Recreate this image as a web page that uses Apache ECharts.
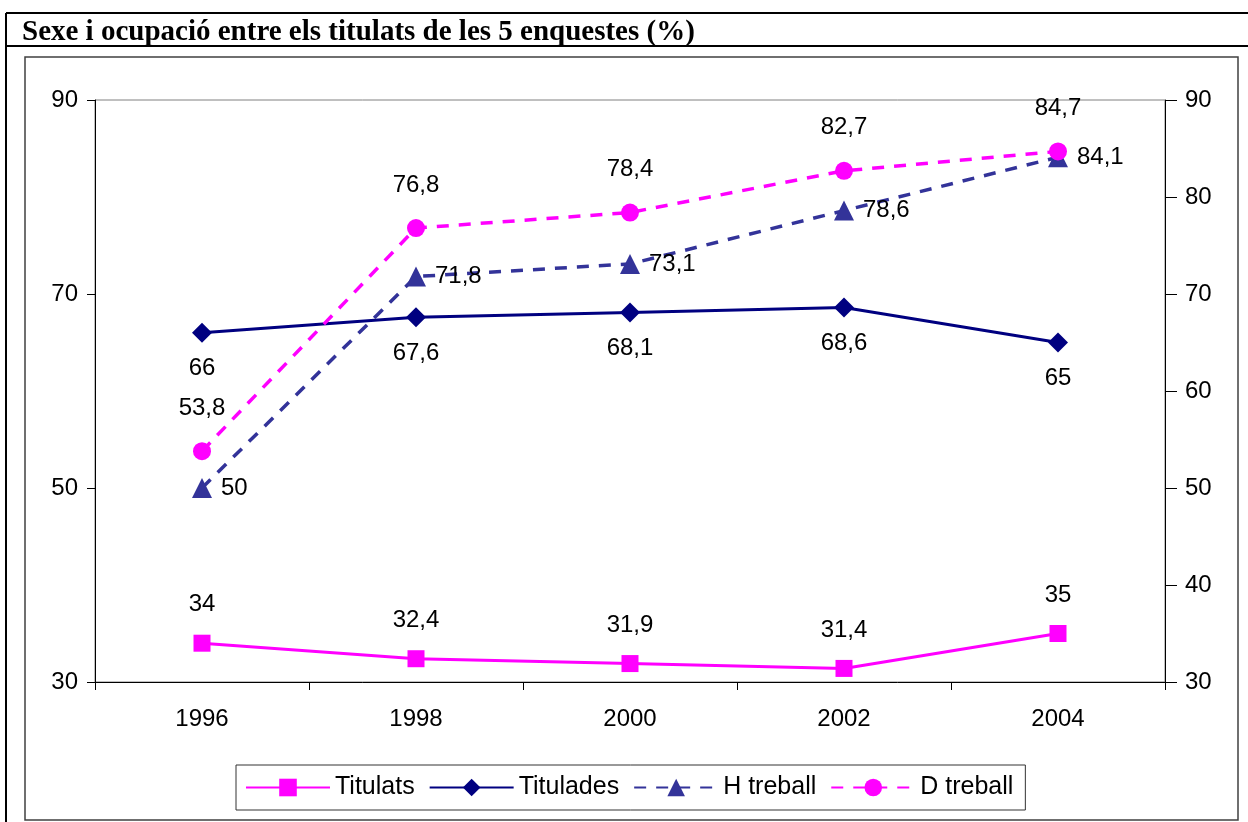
<!DOCTYPE html>
<html>
<head>
    <meta charset="utf-8">
    <title>Sexe i ocupació</title>
    <script src="https://cdn.jsdelivr.net/npm/echarts@6/dist/echarts.min.js"></script>
    <style>
        html, body { margin: 0; padding: 0; background: #fff; }
    </style>
</head>
<body>
<div id="main" style="width: 1248px;height:822px;"></div>
<script type="text/javascript">

    // dades llegides del gràfic
    var anys = ['1996', '1998', '2000', '2002', '2004'];
    var titulats = [34, 32.4, 31.9, 31.4, 35];
    var titulades = [66, 67.6, 68.1, 68.6, 65];
    var hTreball = [50, 71.8, 73.1, 78.6, 84.1];
    var dTreball = [53.8, 76.8, 78.4, 82.7, 84.7];

    var fontTxt = 'Liberation Sans, Arial, sans-serif';

    // coma decimal
    function coma(p) {
        return String(p.value).replace('.', ',');
    }

    var myChart = echarts.init(document.getElementById('main'));

    option = {
        animation: false,
        backgroundColor: '#fff',
        title: {
            text: 'Sexe i ocupació entre els titulats de les 5 enquestes (%)',
            left: 17,
            top: 13,
            textStyle: {
                fontFamily: 'Liberation Serif, Times New Roman, serif',
                fontWeight: 'bold',
                fontSize: 29,
                color: '#000'
            }
        },
        graphic: [
            {type: 'line', shape: {x1: 6, y1: 13, x2: 6, y2: 822}, style: {stroke: '#000', lineWidth: 2}},
            {type: 'line', shape: {x1: 6, y1: 13, x2: 1248, y2: 13}, style: {stroke: '#000', lineWidth: 2}},
            {type: 'line', shape: {x1: 6, y1: 46, x2: 1248, y2: 46}, style: {stroke: '#000', lineWidth: 2}},
            {type: 'rect', shape: {x: 25, y: 57, width: 1213, height: 763}, style: {fill: 'none', stroke: '#404040', lineWidth: 1.5}}
        ],
        legend: {
            left: 236,
            top: 765,
            padding: [10, 12, 10, 9],
            itemGap: 14,
            itemWidth: 84,
            itemHeight: 22,
            borderColor: '#333',
            borderWidth: 1,
            textStyle: {
                fontFamily: fontTxt,
                fontSize: 25,
                color: '#000'
            },
            data: ['Titulats', 'Titulades', 'H treball', 'D treball']
        },
        grid: {
            left: 95,
            right: 83,
            top: 100,
            bottom: 140,
            show: true,
            borderColor: '#808080',
            borderWidth: 1
        },
        xAxis: [{
            type: 'category',
            data: anys,
            boundaryGap: true,
            axisLine: {lineStyle: {color: '#000', width: 1}},
            axisTick: {show: true, length: 8, alignWithLabel: false, lineStyle: {color: '#000'}},
            axisLabel: {
                margin: 25,
                fontFamily: fontTxt,
                fontSize: 24,
                color: '#000'
            },
            splitLine: {show: false}
        }],
        yAxis: [{
            type: 'value',
            position: 'left',
            min: 30,
            max: 90,
            interval: 20,
            axisLine: {show: true, lineStyle: {color: '#000'}},
            axisTick: {show: true, length: 8, lineStyle: {color: '#000'}},
            axisLabel: {
                margin: 17,
                fontFamily: fontTxt,
                fontSize: 24,
                color: '#000'
            },
            splitLine: {show: false}
        }, {
            type: 'value',
            position: 'right',
            min: 30,
            max: 90,
            interval: 10,
            axisLine: {show: true, lineStyle: {color: '#000'}},
            axisTick: {show: true, length: 12, lineStyle: {color: '#000'}},
            axisLabel: {
                margin: 20,
                fontFamily: fontTxt,
                fontSize: 24,
                color: '#000'
            },
            splitLine: {show: false}
        }],
        series: [{
            name: 'Titulats',
            type: 'line',
            data: titulats,
            symbol: 'rect',
            symbolSize: 17,
            color: '#FF00FF',
            lineStyle: {width: 3, color: '#FF00FF'},
            itemStyle: {color: '#FF00FF'},
            label: {
                show: true, position: 'top', distance: 18, formatter: coma,
                fontFamily: fontTxt, fontSize: 24, color: '#000'
            }
        }, {
            name: 'Titulades',
            type: 'line',
            data: titulades,
            symbol: 'diamond',
            symbolSize: 20,
            color: '#000080',
            lineStyle: {width: 3, color: '#000080'},
            itemStyle: {color: '#000080'},
            label: {
                show: true, position: 'bottom', distance: 14, formatter: coma,
                fontFamily: fontTxt, fontSize: 24, color: '#000'
            }
        }, {
            name: 'H treball',
            type: 'line',
            data: hTreball,
            symbol: 'triangle',
            symbolSize: 20,
            color: '#333399',
            lineStyle: {width: 3.5, color: '#333399', type: [12, 10]},
            itemStyle: {color: '#333399'},
            label: {
                show: true, position: 'right', distance: 9, formatter: coma,
                fontFamily: fontTxt, fontSize: 24, color: '#000'
            }
        }, {
            name: 'D treball',
            type: 'line',
            data: dTreball,
            symbol: 'circle',
            symbolSize: 18,
            color: '#FF00FF',
            lineStyle: {width: 3.5, color: '#FF00FF', type: [12, 10]},
            itemStyle: {color: '#FF00FF'},
            label: {
                show: true, position: 'top', distance: 22, formatter: coma,
                fontFamily: fontTxt, fontSize: 24, color: '#000'
            }
        }]
    };
    myChart.setOption(option);
</script>
</body>
</html>
